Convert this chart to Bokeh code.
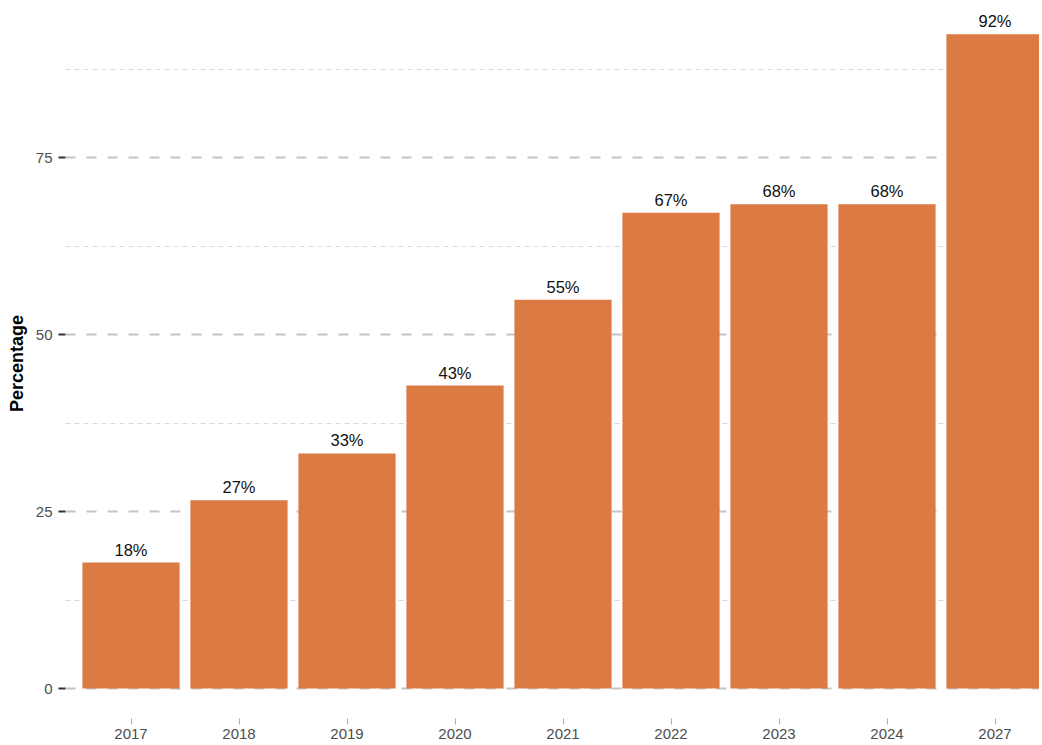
from bokeh.plotting import figure
from bokeh.models import ColumnDataSource, FixedTicker, Range1d, LabelSet
from bokeh.embed import file_html
from bokeh.resources import INLINE
from bokeh.core.properties import value

# ---- data ----
years = ["2017", "2018", "2019", "2020", "2021", "2022", "2023", "2024", "2027"]
percentages = [17.8, 26.6, 33.2, 42.8, 54.9, 67.2, 68.4, 68.4, 92.4]
labels = [f"{round(v)}%" for v in percentages]
y_major_ticks = [0, 25, 50, 75]
y_minor_ticks = [12.5, 37.5, 62.5, 87.5]

xpos = list(range(1, len(years) + 1))
src = ColumnDataSource(dict(x=xpos, top=percentages, label=labels))

FONT = "Liberation Sans"
FW = 974
FH = 710
PX_PER_UNIT = 7.08
Y_TOP = 96.05
X_LEFT = 0.3935

p = figure(
    frame_width=FW, frame_height=FH,
    x_range=Range1d(X_LEFT, X_LEFT + FW / 108.0),
    y_range=Range1d(Y_TOP - FH / PX_PER_UNIT, Y_TOP),
    output_backend="svg", toolbar_location=None,
    min_border_left=65, min_border_right=0, min_border_top=8, min_border_bottom=20,
)
p.outline_line_color = None
p.background_fill_color = "white"

p.vbar(x="x", top="top", bottom=0, width=0.9, source=src,
       fill_color="#DB7A43", line_color=None)

lbl = LabelSet(x="x", y="top", text="label", source=src, text_align="center",
               text_baseline="alphabetic", y_offset=7, text_font=value(FONT),
               text_font_size="16.5px", text_color="#111111")
p.add_layout(lbl)

# grid
p.xgrid.visible = False
p.yaxis.ticker = FixedTicker(ticks=y_major_ticks, minor_ticks=y_minor_ticks)
p.ygrid.grid_line_color = "#c4c4c4"
p.ygrid.grid_line_width = 2
p.ygrid.grid_line_dash = "10 11"
p.ygrid.minor_grid_line_color = "#dadada"
p.ygrid.minor_grid_line_width = 1
p.ygrid.minor_grid_line_dash = "5 4"

# y axis
ya = p.yaxis[0]
ya.axis_line_color = None
ya.minor_tick_line_color = None
ya.major_tick_line_color = "#333333"
ya.major_tick_line_width = 2
ya.major_tick_out = 7
ya.major_tick_in = 0
ya.major_label_text_font = FONT
ya.major_label_text_font_size = "15px"
ya.major_label_text_color = "#4d4d4d"
ya.major_label_standoff = 6
ya.axis_label = "Percentage"
ya.axis_label_text_font = FONT
ya.axis_label_text_font_style = "bold"
ya.axis_label_text_font_size = "18px"
ya.axis_label_text_color = "#000000"
ya.axis_label_standoff = 6

# x axis
xa = p.xaxis[0]
xa.ticker = FixedTicker(ticks=xpos)
xa.major_label_overrides = {x: y for x, y in zip(xpos, years)}
xa.axis_line_color = None
xa.minor_tick_line_color = None
xa.major_tick_line_color = "#aaaaaa"
xa.major_tick_line_width = 1
xa.major_tick_out = 6
xa.major_tick_in = 0
xa.major_label_text_font = FONT
xa.major_label_text_font_size = "15px"
xa.major_label_text_color = "#4d4d4d"
xa.major_label_standoff = 4

open("out.html", "w").write(file_html(p, INLINE))
